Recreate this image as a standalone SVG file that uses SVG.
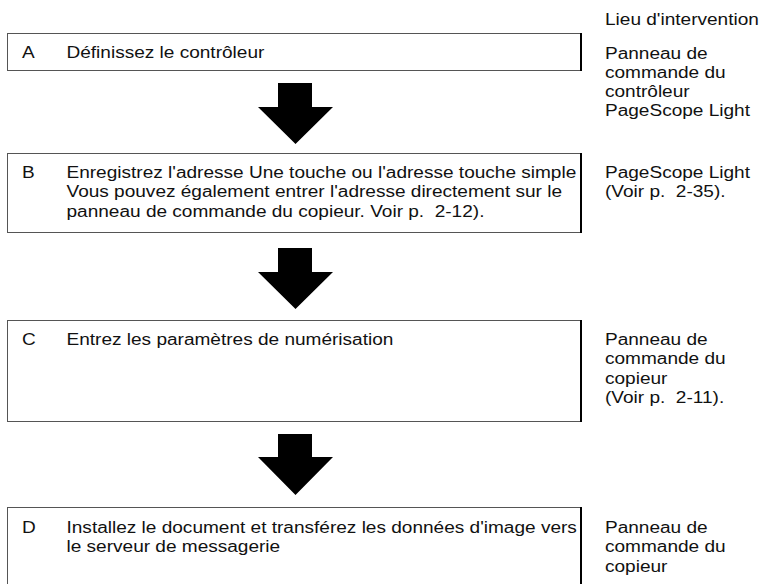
<svg xmlns="http://www.w3.org/2000/svg" width="761" height="584" viewBox="0 0 761 584">
<style>
text{font-family:"Liberation Sans",Arial,Helvetica,sans-serif;font-size:16px;fill:#111;white-space:pre}
.box{fill:#fff;stroke:#555;stroke-width:1}
.edge{stroke:#000;stroke-width:2}
.arrow{fill:#000}
</style>
<rect width="761" height="584" fill="#fff"/>
<g id="header">
<text transform="translate(605,25) scale(1.19,1)">Lieu d'intervention</text>
</g>
<g id="connectors">
<path class="arrow" d="M278,83H312V107H333L295.5,144L258,107H278Z"/>
<path class="arrow" d="M278,248H312V272H333L295.5,309L258,272H278Z"/>
<path class="arrow" d="M278,434H312V457H333L295.5,495L258,457H278Z"/>
</g>
<g id="stepA">
<rect class="box" x="7.5" y="33.5" width="573.5" height="37"/>
<line class="edge" x1="581" y1="33" x2="581" y2="71"/>
<text transform="translate(22,57.5) scale(1.19,1)">A</text>
<text transform="translate(66.5,57.5) scale(1.19,1)">Définissez le contrôleur</text>
<text transform="translate(605,58.5) scale(1.19,1)"><tspan x="0">Panneau de</tspan><tspan x="0" dy="19.3">commande du</tspan><tspan x="0" dy="19.3">contrôleur</tspan><tspan x="0" dy="19.3">PageScope Light</tspan></text>
</g>
<g id="stepB">
<rect class="box" x="7.5" y="153.5" width="573.5" height="79"/>
<line class="edge" x1="581" y1="153" x2="581" y2="233"/>
<text transform="translate(22,178) scale(1.19,1)">B</text>
<text transform="translate(66.5,178) scale(1.19,1)"><tspan x="0">Enregistrez l'adresse Une touche ou l'adresse touche simple</tspan><tspan x="0" dy="19.3">Vous pouvez également entrer l'adresse directement sur le</tspan><tspan x="0" dy="19.3">panneau de commande du copieur. Voir p.  2-12).</tspan></text>
<text transform="translate(605,178) scale(1.19,1)"><tspan x="0">PageScope Light</tspan><tspan x="0" dy="19.3">(Voir p.  2-35).</tspan></text>
</g>
<g id="stepC">
<rect class="box" x="7.5" y="320.5" width="573.5" height="101"/>
<line class="edge" x1="581" y1="320" x2="581" y2="422"/>
<text transform="translate(22,345) scale(1.19,1)">C</text>
<text transform="translate(66.5,345) scale(1.19,1)">Entrez les paramètres de numérisation</text>
<text transform="translate(605,345) scale(1.19,1)"><tspan x="0">Panneau de</tspan><tspan x="0" dy="19.3">commande du</tspan><tspan x="0" dy="19.3">copieur</tspan><tspan x="0" dy="19.3">(Voir p.  2-11).</tspan></text>
</g>
<g id="stepD">
<rect class="box" x="7.5" y="507.5" width="573.5" height="90"/>
<line class="edge" x1="581" y1="507" x2="581" y2="584"/>
<text transform="translate(22,533) scale(1.19,1)">D</text>
<text transform="translate(66.5,533) scale(1.19,1)"><tspan x="0">Installez le document et transférez les données d'image vers</tspan><tspan x="0" dy="19.3">le serveur de messagerie</tspan></text>
<text transform="translate(605,533) scale(1.19,1)"><tspan x="0">Panneau de</tspan><tspan x="0" dy="19.3">commande du</tspan><tspan x="0" dy="19.3">copieur</tspan></text>
</g>
</svg>
